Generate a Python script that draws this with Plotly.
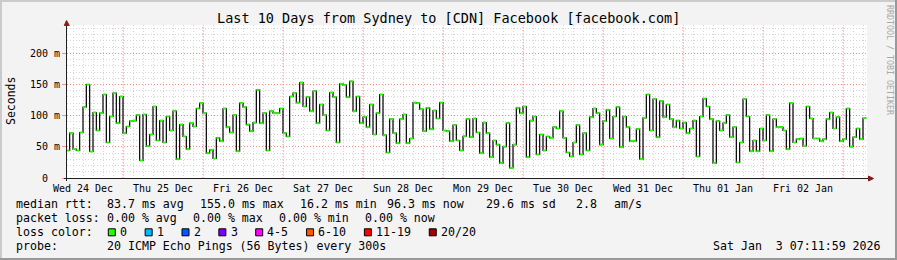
import pandas as pd
import plotly.graph_objects as go

# ---------------- data ----------------
title_text = "Last 10 Days from Sydney to [CDN] Facebook [facebook.com]"
first_hour = "2025-12-24 07:00"          # first hourly RRD step
range_start = "2025-12-24 07:11:59"
range_end = "2026-01-03 07:11:59"

median_ms = [
    # Wed 24 Dec 07:00-23:00
    44.1, 71.9, 46.3, 44.1, 73.0, 113.6, 150.0, 42.5, 105.1, 76.2, 104.0, 134.0,
    57.0, 98.7, 136.1, 88.0, 130.8,
    # Thu 25 Dec
    71.9, 82.6, 91.2, 92.2, 100.8, 28.1, 101.9, 51.1, 69.8, 114.7, 60.2, 92.2,
    57.0, 98.7, 76.2, 107.2, 30.2, 85.8, 66.6, 46.3, 88.0, 82.6, 111.5, 120.1,
    # Fri 26 Dec
    104.0, 39.8, 45.2, 31.3, 64.4, 59.1, 111.5, 81.6, 73.0, 100.8, 43.0, 120.1,
    113.6, 85.8, 75.1, 89.0, 141.4, 88.0, 104.0, 44.1, 107.2, 104.0, 104.0, 111.5,
    # Sat 27 Dec
    71.9, 66.6, 130.8, 136.1, 121.1, 153.2, 114.7, 129.7, 107.2, 139.3, 88.0, 117.9,
    100.8, 76.2, 137.2, 129.7, 57.0, 151.1, 148.9, 129.7, 155.0, 107.2, 130.8, 88.0,
    # Sun 28 Dec
    97.6, 81.6, 117.9, 69.8, 104.0, 134.0, 68.7, 40.9, 94.4, 71.9, 55.9, 94.4,
    101.9, 55.9, 63.4, 121.1, 120.1, 110.4, 75.1, 112.6, 78.3, 108.3, 95.5, 121.1,
    # Mon 29 Dec
    76.2, 75.1, 59.1, 84.8, 60.2, 44.1, 67.0, 94.4, 65.5, 95.5, 73.0, 39.8,
    89.0, 71.9, 33.4, 60.2, 53.7, 23.8, 50.5, 88.0, 16.2, 53.7, 112.6, 104.0,
    # Tue 30 Dec
    114.7, 33.4, 92.2, 98.7, 37.7, 69.8, 44.1, 66.6, 64.4, 81.6, 79.4, 107.2,
    64.4, 40.9, 34.5, 57.0, 84.8, 37.7, 71.9, 44.1, 97.6, 111.5, 104.0, 53.7,
    # Wed 31 Dec
    91.2, 109.4, 63.4, 98.7, 113.6, 49.5, 98.7, 81.6, 59.1, 59.1, 78.3, 30.2,
    96.5, 134.0, 76.2, 126.5, 65.5, 123.3, 97.6, 117.9, 94.4, 81.6, 92.2, 79.4,
    # Thu 01 Jan
    89.0, 71.9, 79.4, 92.2, 34.5, 98.7, 127.5, 114.7, 94.4, 23.8, 91.2, 76.2,
    88.0, 100.8, 65.5, 81.6, 24.9, 57.0, 126.5, 98.7, 43.0, 60.2, 43.0, 79.4,
    # Fri 02 Jan
    60.2, 100.8, 43.0, 94.4, 81.6, 81.6, 76.2, 46.3, 120.1, 57.0, 62.3, 63.4,
    51.6, 114.7, 95.5, 63.4, 63.4, 59.1, 62.3, 94.4, 105.1, 79.4, 97.6, 59.1,
    # Sat 03 Jan 00:00-06:00
    62.3, 111.5, 50.5, 65.5, 79.4, 62.3, 96.3,
]

day_tick_labels = ["Wed 24 Dec", "Thu 25 Dec", "Fri 26 Dec", "Sat 27 Dec", "Sun 28 Dec",
                   "Mon 29 Dec", "Tue 30 Dec", "Wed 31 Dec", "Thu 01 Jan", "Fri 02 Jan"]
first_label_noon = "2025-12-24 12:00"
first_midnight = "2025-12-25 00:00"
n_midnights = 10

y_tick_values = [0, 50, 100, 150, 200]
y_tick_labels = ["0\u00a0\u00a0", "50 m", "100 m", "150 m", "200 m"]
y_max = 245.5
y_axis_title = "Seconds"

rtt_label = "median rtt:"
rtt_stats = ["83.7 ms avg", "155.0 ms max", "16.2 ms min", "96.3 ms now", "29.6 ms sd", "2.8", "am/s"]
loss_label = "packet loss:"
loss_stats = ["0.00 % avg", "0.00 % max", "0.00 % min", "0.00 % now"]
color_label = "loss color:"
loss_bucket_labels = ["0", "1", "2", "3", "4-5", "6-10", "11-19", "20/20"]
loss_bucket_colors = ["#26ff00", "#00b8ff", "#0059ff", "#7e00ff", "#ff00ff", "#ff5500", "#ff0000", "#a00000"]
probe_label = "probe:"
probe_text = "20 ICMP Echo Pings (56 Bytes) every 300s"
timestamp_text = "Sat Jan\u00a0\u00a03 07:11:59 2026"
watermark = "RRDTOOL / TOBI OETIKER"

# ---------------- layout geometry (pixels) ----------------
W, H = 897, 260
PL, PR, PT, PB = 67, 867, 25, 178
FONT = "DejaVu Sans Mono"
CHAR_W = 7.0


def px(x):
    return (x - PL) / (PR - PL)


def py(y):
    return (PB - y) / (PB - PT)


times = pd.date_range(first_hour, periods=len(median_ms), freq="h")
step_end = times[-1] + pd.Timedelta(hours=1)

fig = go.Figure()

# black step line (median)
fig.add_trace(go.Scatter(
    x=list(times) + [step_end], y=median_ms + [median_ms[-1]],
    mode="lines", line=dict(color="#000000", width=1.2, shape="hv"),
    hoverinfo="skip", showlegend=False))

# green loss-colour bands on each step
gx, gy = [], []
for i, v in enumerate(median_ms):
    t0 = times[i]
    t1 = times[i] + pd.Timedelta(hours=1)
    gx += [t0, t1, None]
    gy += [v, v, None]
fig.add_trace(go.Scatter(
    x=gx, y=gy, mode="lines", line=dict(color=loss_bucket_colors[0], width=2.0),
    hoverinfo="skip", showlegend=False))

shapes = []
# red midnight grid lines
for d in pd.date_range(first_midnight, periods=n_midnights, freq="D"):
    shapes.append(dict(type="line", xref="x", yref="paper", x0=d, x1=d, y0=0, y1=1,
                       line=dict(color="#f29090", width=1, dash="1px,2px"), layer="below"))

# frame
shapes += [
    dict(type="rect", xref="paper", yref="paper", x0=px(0), x1=px(W), y0=py(0), y1=py(2),
         fillcolor="#cbcbcb", line=dict(width=0), layer="below"),
    dict(type="rect", xref="paper", yref="paper", x0=px(0), x1=px(2), y0=py(0), y1=py(H),
         fillcolor="#cbcbcb", line=dict(width=0), layer="below"),
    dict(type="rect", xref="paper", yref="paper", x0=px(0), x1=px(W), y0=py(H - 2), y1=py(H),
         fillcolor="#999999", line=dict(width=0), layer="below"),
    dict(type="rect", xref="paper", yref="paper", x0=px(W - 2), x1=px(W), y0=py(0), y1=py(H),
         fillcolor="#999999", line=dict(width=0), layer="below"),
]
# axes lines + arrows
shapes += [
    dict(type="line", xref="paper", yref="paper", x0=px(64), x1=px(870), y0=py(178.5), y1=py(178.5),
         line=dict(color="#202020", width=1)),
    dict(type="line", xref="paper", yref="paper", x0=px(66.5), x1=px(66.5), y0=py(181), y1=py(23),
         line=dict(color="#202020", width=1)),
    dict(type="path", xref="paper", yref="paper",
         path=f"M {px(64.3)} {py(25.5)} L {px(66.5)} {py(20.5)} L {px(69.3)} {py(25.5)} Z",
         fillcolor="#8b1a1a", line=dict(color="#8b1a1a", width=1)),
    dict(type="path", xref="paper", yref="paper",
         path=f"M {px(868.5)} {py(176)} L {px(873.5)} {py(178.5)} L {px(868.5)} {py(181)} Z",
         fillcolor="#8b1a1a", line=dict(color="#8b1a1a", width=1)),
]

annotations = []


def text(x, y, s, size=11.6, anchor="left", color="#000000", angle=0, yanchor="middle"):
    annotations.append(dict(xref="paper", yref="paper", x=px(x), y=py(y), text=s, showarrow=False,
                            xanchor=anchor, yanchor=yanchor, textangle=angle, borderpad=0, borderwidth=0,
                            font=dict(family=FONT, size=size, color=color)))


# legend colour squares + labels (RRDtool style: box, label, fixed tail)
sq_size, sq_y = 7, 232.3
box = 108.3
for c, lab in zip(loss_bucket_colors, loss_bucket_labels):
    shapes.append(dict(type="rect", xref="paper", yref="paper",
                       x0=px(box), x1=px(box + sq_size), y0=py(sq_y - sq_size / 2), y1=py(sq_y + sq_size / 2),
                       fillcolor=c, line=dict(color="#000000", width=1)))
    text(box + 11.7, 232.3, lab)
    box += 29.85 + CHAR_W * len(lab)

text(448, 18, title_text, size=13.5, anchor="center")
text(10.5, 101.5, y_axis_title, size=11.5, anchor="center", angle=-90)
text(890, 60, watermark, size=8.3, anchor="center", color="#a8a8a8", angle=90)

row_y = [204.3, 218.3, 232.3, 246.3]
text(16, row_y[0], rtt_label)
for s, x in zip(rtt_stats, [107.3, 200, 300, 386.7, 486, 576, 614.3]):
    text(x, row_y[0], s)
text(16, row_y[1], loss_label)
for s, x in zip(loss_stats, [107.3, 193.3, 279.3, 365.3]):
    text(x, row_y[1], s)
text(16, row_y[2], color_label)
text(16, row_y[3], probe_label)
text(107.3, row_y[3], probe_text)
text(880.5, row_y[3], timestamp_text, anchor="right")

noons = pd.date_range(first_label_noon, periods=len(day_tick_labels), freq="D")

fig.update_layout(
    width=W, height=H,
    margin=dict(l=PL, r=W - PR, t=PT, b=H - PB),
    paper_bgcolor="#f3f3f3", plot_bgcolor="#ffffff",
    showlegend=False,
    shapes=shapes, annotations=annotations,
    font=dict(family=FONT, size=10, color="#000000"),
    xaxis=dict(
        type="date", range=[range_start, range_end],
        tickmode="array", tickvals=list(noons), ticktext=day_tick_labels,
        showgrid=False, zeroline=False, showline=False, ticks="outside", ticklen=1,
        tickcolor="rgba(0,0,0,0)", tickfont=dict(family=FONT, size=10, color="#000000"),
        minor=dict(tickmode="linear", tick0="2025-12-24 00:00", dtick=3 * 3600 * 1000,
                   showgrid=True, gridcolor="#d6d6d6", griddash="1px,2px", gridwidth=1, ticks=""),
        fixedrange=True,
    ),
    yaxis=dict(
        range=[0, y_max], tickmode="array", tickvals=y_tick_values, ticktext=y_tick_labels,
        showgrid=True, gridcolor="#f29090", griddash="1px,2px", gridwidth=1,
        zeroline=False, showline=False, ticks="outside", ticklen=4, tickcolor="#f29090",
        tickfont=dict(family=FONT, size=10, color="#000000"),
        minor=dict(tickmode="linear", tick0=0, dtick=10, showgrid=True,
                   gridcolor="#d6d6d6", griddash="1px,2px", gridwidth=1, ticks=""),
        fixedrange=True,
    ),
)

fig.write_html("out.html")
